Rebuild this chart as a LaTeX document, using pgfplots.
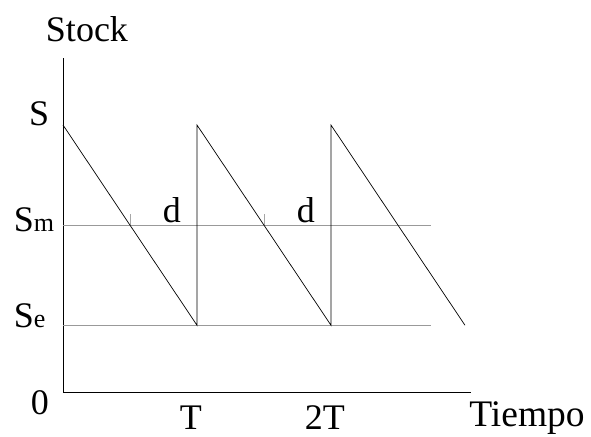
\documentclass[border=0pt]{standalone}
\usepackage{pgfplots}
\pgfplotsset{compat=1.18}
\usepackage{fontspec}
\setmainfont{Liberation Serif}
\tikzset{lbl/.style={inner sep=0pt, outer sep=0pt, font=\fontsize{36bp}{40bp}\selectfont}}
\begin{document}
\begin{tikzpicture}
\useasboundingbox (0,0) rectangle (591bp,437bp);
\begin{axis}[
  at={(63bp,45bp)}, anchor=south west,
  scale only axis, width=408bp, height=334bp,
  xmin=0, xmax=3.045, ymin=0, ymax=1.251,
  axis lines*=left,
  axis line style={black, line width=0.7pt},
  xtick=\empty, ytick=\empty,
  clip=false,
]
% reference levels
\addplot[gray!80, line width=0.6pt] coordinates {(0,0.625) (2.746,0.625)};
\addplot[gray!80, line width=0.6pt] coordinates {(0,0.25) (2.746,0.25)};
% small marks
\addplot[gray!70, line width=0.6pt] coordinates {(0.5,0.625) (0.5,0.667)};
\addplot[gray!70, line width=0.6pt] coordinates {(1.5,0.625) (1.5,0.667)};
% sawtooth
\addplot[black, line width=0.7pt] coordinates {(0,1) (1,0.25) (1,1) (2,0.25) (2,1) (3,0.25)};
% labels
\node[lbl, anchor=base] at (axis cs:0.179,1.311) {Stock};
\node[lbl, anchor=base] at (axis cs:-0.179,1.0) {S};
\node[lbl, anchor=base west] at (axis cs:-0.366,0.603) {S{\fontsize{26bp}{28bp}\selectfont m}};
\node[lbl, anchor=base west] at (axis cs:-0.366,0.243) {S{\fontsize{26bp}{28bp}\selectfont e}};
\node[lbl, anchor=base] at (axis cs:-0.172,-0.086) {0};
\node[lbl, anchor=base] at (axis cs:0.955,-0.139) {T};
\node[lbl, anchor=base] at (axis cs:1.955,-0.139) {2T};
\node[lbl, anchor=base, font=\fontsize{37.5bp}{40bp}\selectfont] at (axis cs:3.463,-0.131) {Tiempo};
\node[lbl, anchor=base] at (axis cs:0.813,0.633) {d};
\node[lbl, anchor=base] at (axis cs:1.813,0.633) {d};
\end{axis}
\end{tikzpicture}
\end{document}
